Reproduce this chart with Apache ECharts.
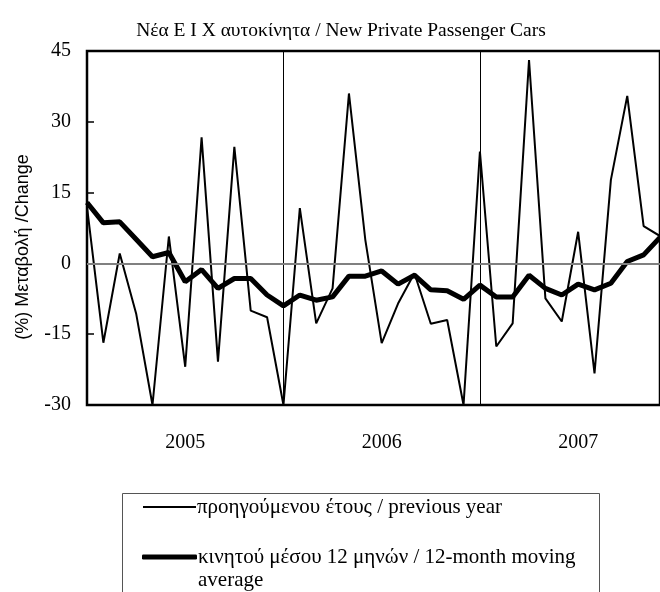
<!DOCTYPE html>
<html>
<head>
<meta charset="utf-8">
<script src="https://cdn.jsdelivr.net/npm/echarts@6/dist/echarts.min.js"></script>
<style>html,body{margin:0;padding:0;background:#fff}#c{width:660px;height:592px}</style>
</head>
<body>
<div id="c"></div>
<script>
var months = [];
['2005','2006','2007'].forEach(function(y){
  for (var m = 1; m <= 12; m++) months.push(y + '-' + (m < 10 ? '0' + m : m));
});
var yearLabelIndex = [6, 18, 30];
var yearBoundaryIndex = [12, 24];
var yTicks = [-30, -15, 0, 15, 30, 45];

var prevYear = [12.0, -16.8, 2.1, -10.6, -30, 5.7, -21.9, 26.7, -20.8, 24.7, -10.0, -11.4,
                -30, 11.7, -12.7, -5.3, 36.0, 5.0, -16.9, -8.5, -2.1, -12.8, -12.0, -30,
                23.7, -17.6, -12.7, 43.1, -7.4, -12.3, 6.7, -23.3, 17.7, 35.5, 7.9, 5.8];
var movingAvg = [12.9, 8.6, 8.8, 5.1, 1.4, 2.3, -3.9, -1.3, -5.3, -3.2, -3.2, -6.7,
                 -9.0, -6.7, -7.8, -7.1, -2.7, -2.7, -1.6, -4.4, -2.5, -5.6, -5.8, -7.6,
                 -4.6, -7.1, -7.1, -2.5, -5.3, -6.7, -4.4, -5.6, -4.2, 0.4, 1.8, 5.5];

var names = ['προηγούμενου έτους / previous year', 'κινητού μέσου 12 μηνών / 12-month moving\naverage'];

var legendText = {fontFamily: 'Liberation Serif', fontSize: 21, color: '#000', lineHeight: 23, padding: [0, 0, 0, -4]};

var chart = echarts.init(document.getElementById('c'));
chart.setOption({
  animation: false,
  backgroundColor: '#fff',
  title: {
    text: 'Νέα Ε Ι Χ αυτοκίνητα / New Private Passenger Cars',
    left: 336, top: 16, textAlign: 'center',
    textStyle: {fontFamily: 'Liberation Serif', fontSize: 19.5, fontWeight: 'normal', color: '#000'}
  },
  grid: {
    left: 87, top: 51, right: -4.5, bottom: 187,
    show: true, borderColor: '#000', borderWidth: 2.5, backgroundColor: 'transparent'
  },
  graphic: [{
    type: 'rect', left: 120, top: 491, silent: true,
    shape: {width: 477, height: 130},
    style: {fill: 'none', stroke: '#555', lineWidth: 1}
  }],
  legend: [{
    orient: 'vertical', left: 143, top: 495.5, padding: 0,
    icon: 'rect', itemWidth: 53, itemHeight: 2,
    textStyle: legendText,
    data: [names[0]]
  }, {
    orient: 'vertical', left: 142, top: 522.5, padding: 0,
    icon: 'roundRect', itemWidth: 55, itemHeight: 5,
    textStyle: legendText,
    formatter: function(n){ return ' \n' + n; },
    data: [names[1]]
  }],
  xAxis: {
    type: 'category', data: months, boundaryGap: false,
    axisLine: {show: false},
    axisTick: {show: false},
    axisLabel: {
      interval: function(i){ return yearLabelIndex.indexOf(i) >= 0; },
      formatter: function(v){ return v.slice(0, 4); },
      margin: 28, fontFamily: 'Liberation Serif', fontSize: 20, color: '#000'
    },
    splitLine: {
      show: true,
      interval: function(i){ return yearBoundaryIndex.indexOf(i) >= 0; },
      lineStyle: {color: '#000', width: 1}
    }
  },
  yAxis: {
    type: 'value', min: -30, max: 45, interval: 15,
    name: '(%) Μεταβολή /Change', nameLocation: 'middle', nameGap: 55, nameRotate: 90,
    nameTextStyle: {fontFamily: 'Liberation Sans', fontSize: 18, color: '#000', padding: [0, 38, 0, 0]},
    axisLine: {show: false},
    axisTick: {show: true, inside: true, length: 7, lineStyle: {color: '#000', width: 1.5}},
    axisLabel: {margin: 16, fontFamily: 'Liberation Serif', fontSize: 20, color: '#000',
      formatter: function(v){ return yTicks.indexOf(v) >= 0 ? String(v) : ''; }},
    splitLine: {show: false}
  },
  series: [{
    name: names[0], type: 'line', data: prevYear, symbol: 'none',
    lineStyle: {color: '#000', width: 2}, itemStyle: {color: '#000'},
    markLine: {
      silent: true, symbol: 'none', label: {show: false},
      lineStyle: {color: '#808080', width: 2, type: 'solid'},
      data: [{yAxis: 0}]
    },
    z: 3
  }, {
    name: names[1], type: 'line', data: movingAvg, symbol: 'none',
    lineStyle: {color: '#000', width: 5}, itemStyle: {color: '#000'}, z: 4
  }]
});
</script>
</body>
</html>
